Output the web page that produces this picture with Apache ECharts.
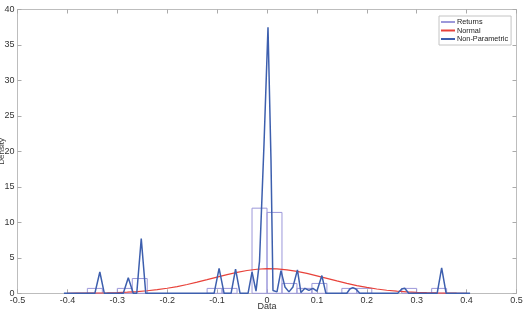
<!DOCTYPE html>
<html>
<head>
<meta charset="utf-8">
<script src="https://cdn.jsdelivr.net/npm/echarts@6/dist/echarts.min.js"></script>
<style>html,body{margin:0;padding:0;background:#fff;}#c{width:523px;height:315px;}</style>
</head>
<body>
<div id="c"></div>
<script>
// Histogram of returns (bin start, bin end, density)
var binStart   = [-0.36, -0.30, -0.27, -0.12, -0.09, -0.03, 0.00, 0.03, 0.06, 0.09, 0.15, 0.18, 0.27, 0.33];
var binEnd     = [-0.33, -0.27, -0.24, -0.09, -0.06,  0.00, 0.03, 0.06, 0.09, 0.12, 0.18, 0.21, 0.30, 0.36];
var binDensity = [0.69, 0.69, 2.08, 0.69, 0.69, 12.0, 11.4, 1.39, 0.69, 1.39, 0.69, 0.69, 0.69, 0.69];

// Fitted normal curve
var normX = [-0.40,-0.38,-0.36,-0.34,-0.32,-0.30,-0.28,-0.26,-0.24,-0.22,-0.20,-0.18,-0.16,-0.14,-0.12,-0.10,-0.08,-0.06,-0.04,-0.02,0.00,0.02,0.04,0.06,0.08,0.10,0.12,0.14,0.16,0.18,0.20,0.22,0.24,0.26,0.28,0.30,0.32,0.34,0.36,0.38,0.40];
var normY = [0.007,0.013,0.022,0.039,0.064,0.103,0.161,0.244,0.358,0.512,0.708,0.951,1.240,1.567,1.922,2.287,2.641,2.957,3.214,3.389,3.467,3.440,3.313,3.095,2.804,2.467,2.105,1.742,1.400,1.090,0.824,0.604,0.430,0.297,0.199,0.129,0.082,0.050,0.030,0.017,0.010];

// Non-parametric (kernel) density
var kdeX = [-0.407,-0.345,-0.335,-0.326,-0.288,-0.278,-0.268,-0.261,-0.252,-0.243,-0.106,-0.096,-0.086,-0.072,-0.063,-0.054,-0.038,-0.030,-0.022,-0.015,-0.006,0.002,0.008,0.012,0.020,0.028,0.036,0.044,0.052,0.061,0.068,0.076,0.084,0.092,0.100,0.110,0.118,0.160,0.166,0.172,0.178,0.186,0.262,0.270,0.276,0.284,0.341,0.350,0.359,0.407];
var kdeY = [0,0,3.0,0,0,2.2,0,0,7.7,0,0,3.5,0,0,3.4,0,0,3.0,0.3,4.5,21.0,37.5,18.8,0.4,0.2,3.2,0.9,0.2,0.9,3.3,0.1,0.7,0.4,0.7,0.3,2.5,0,0,0.6,0.8,0.6,0,0,0.6,0.7,0,0,3.6,0,0];

var xTicks = [-0.5,-0.4,-0.3,-0.2,-0.1,0,0.1,0.2,0.3,0.4,0.5];
var yTicks = [0,5,10,15,20,25,30,35,40];

var histColor = '#9c98da', normColor = '#e8423a', kdeColor = '#3d5fae';
var axisColor = '#bdbdbd', labelColor = '#333';

var histData = binStart.map(function(s,i){ return [s, binEnd[i], binDensity[i]]; });
var normData = normX.map(function(x,i){ return [x, normY[i]]; });
var kdeData = kdeX.map(function(x,i){ return [x, kdeY[i]]; });

var font = 'Liberation Sans, Arial, sans-serif';
function axisBase(extra){
  var a = {
    type:'value', splitLine:{show:false},
    axisLine:{show:true,onZero:false,lineStyle:{color:axisColor,width:1}},
    axisTick:{show:true,inside:true,length:4,lineStyle:{color:'#aaa'}},
    axisLabel:{show:true,color:labelColor,fontSize:9,fontFamily:font}
  };
  for (var k in extra) a[k]=extra[k];
  return a;
}

var chart = echarts.init(document.getElementById('c'));
chart.setOption({
  animation:false,
  backgroundColor:'#fff',
  grid:{left:17.5,right:6.5,top:9.5,bottom:21.7,containLabel:false,outerBoundsMode:'none'},
  legend:{
    orient:'vertical', left:439, top:16, itemWidth:14, itemHeight:2, itemGap:0.5,
    padding:[2,3,2,2], borderColor:'#c4c4c4', borderWidth:1, backgroundColor:'#fff',
    textStyle:{fontSize:7.3,color:'#222',fontFamily:font,padding:[0,0,0,-3],lineHeight:8},
    data:[
      {name:'Returns',icon:'rect',itemStyle:{color:histColor}},
      {name:'Normal',icon:'rect',itemStyle:{color:normColor}},
      {name:'Non-Parametric',icon:'rect',itemStyle:{color:kdeColor}}
    ]
  },
  xAxis:[
    axisBase({min:-0.5,max:0.5,interval:0.1,name:'Data',nameLocation:'middle',nameGap:9,nameMoveOverlap:false,
      nameTextStyle:{fontSize:9,color:labelColor,fontFamily:font},
      axisLabel:{color:labelColor,fontSize:9,fontFamily:font,margin:3,
        formatter:function(v){ return String(Number(v.toFixed(1))); }}}),
    axisBase({min:-0.5,max:0.5,interval:0.1,position:'top',axisLabel:{show:false}})
  ],
  yAxis:[
    axisBase({min:0,max:40,interval:5,name:'Density',nameLocation:'middle',nameGap:11.5,nameMoveOverlap:false,
      nameTextStyle:{fontSize:8,color:labelColor,fontFamily:font},
      axisLabel:{color:labelColor,fontSize:9,fontFamily:font,margin:3}}),
    axisBase({min:0,max:40,interval:5,position:'right',axisLabel:{show:false}})
  ],
  series:[
    {
      name:'Returns', type:'custom', xAxisIndex:0, yAxisIndex:0,
      data:histData, encode:{x:[0,1],y:2},
      itemStyle:{color:histColor},
      renderItem:function(params, api){
        var p0 = api.coord([api.value(0), 0]);
        var p1 = api.coord([api.value(1), api.value(2)]);
        return {type:'rect', shape:{x:p0[0], y:p1[1], width:p1[0]-p0[0], height:p0[1]-p1[1]},
          style:{fill:'none', stroke:histColor, lineWidth:1}};
      }
    },
    {name:'Normal', type:'line', data:normData, showSymbol:false, symbol:'none',
      lineStyle:{color:normColor,width:1.2}, itemStyle:{color:normColor}},
    {name:'Non-Parametric', type:'line', data:kdeData, showSymbol:false, symbol:'none',
      lineStyle:{color:kdeColor,width:1.5}, itemStyle:{color:kdeColor}}
  ]
});
</script>
</body>
</html>
